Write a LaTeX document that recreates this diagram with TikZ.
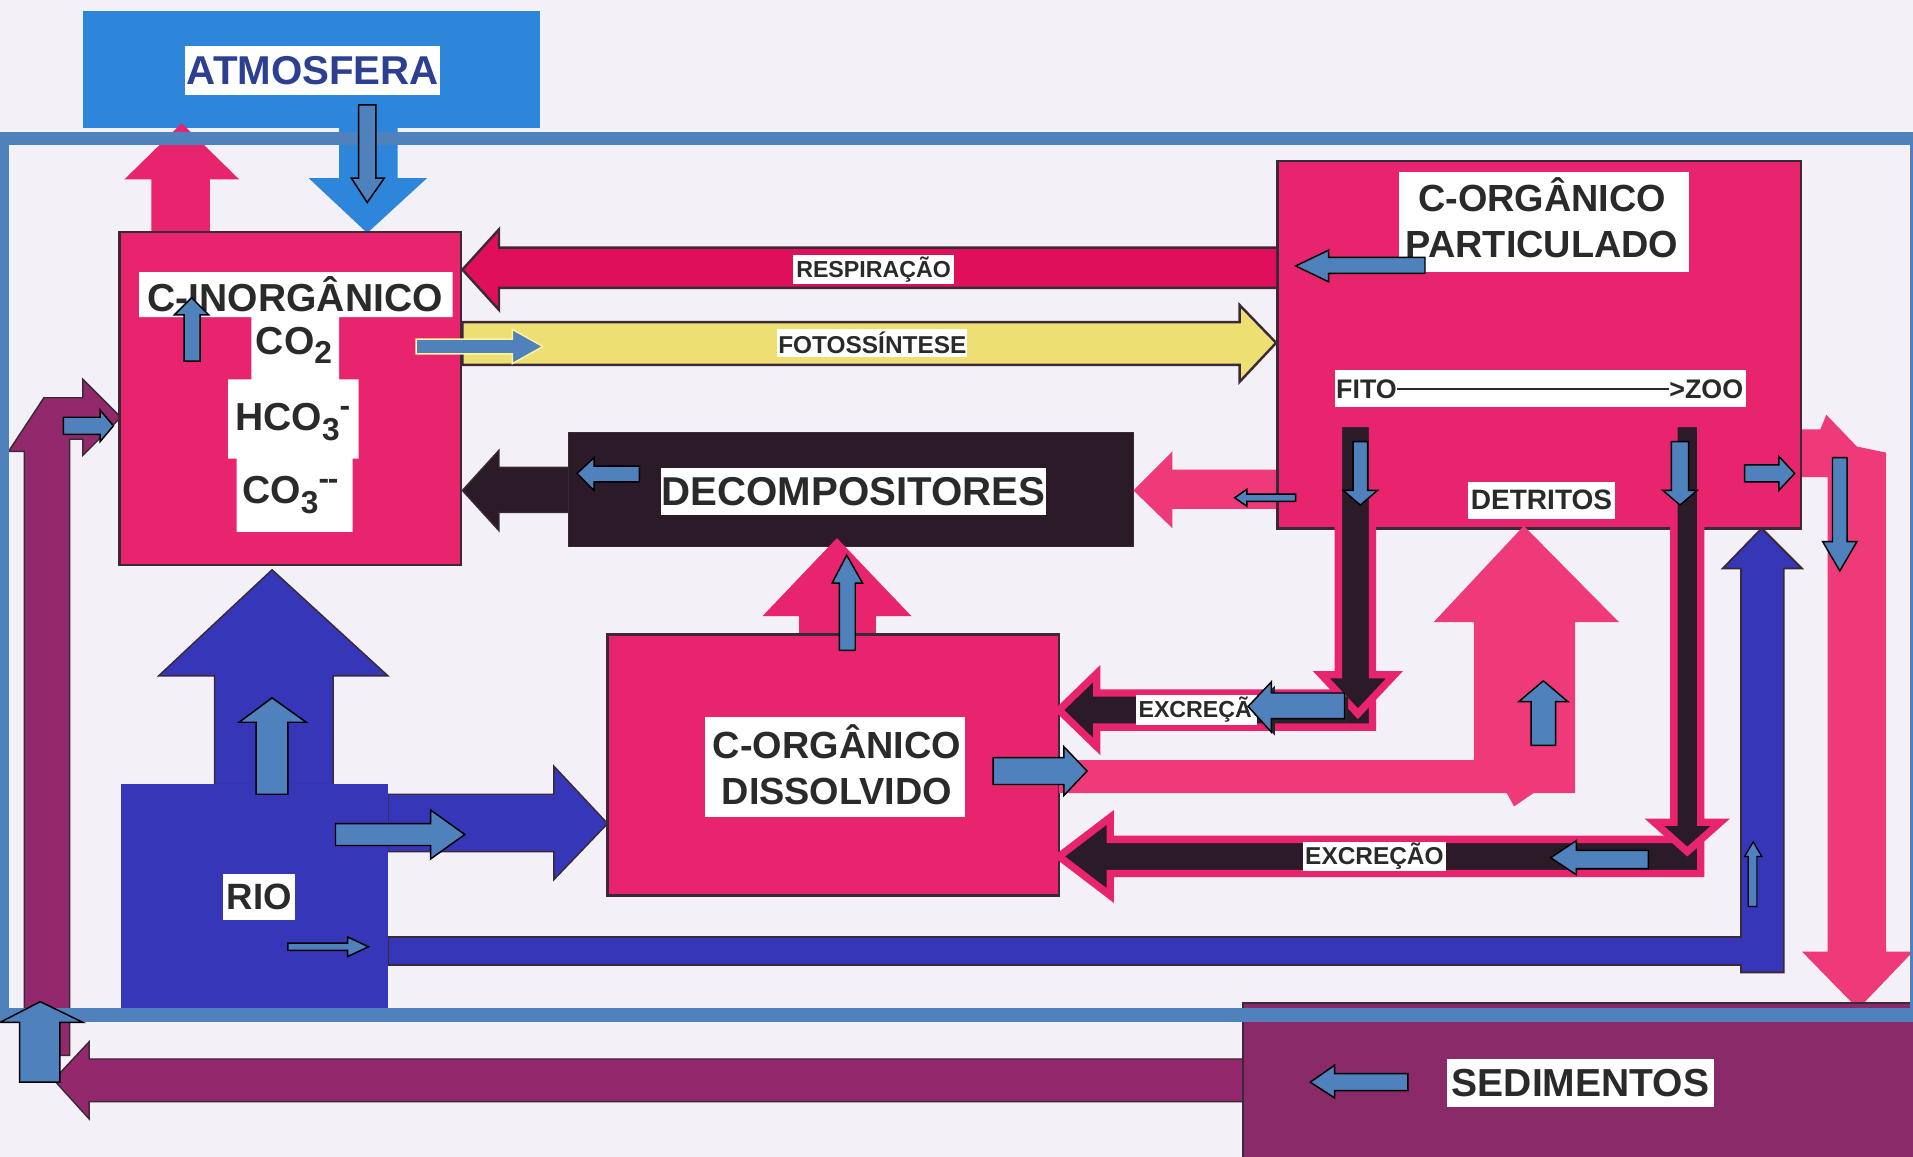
\documentclass[tikz,border=0pt]{standalone}
\usepackage{fontspec}
\setmainfont{Liberation Sans}
\definecolor{bgc}{HTML}{F3F1F7}
\definecolor{pinkA}{HTML}{E8246E}
\definecolor{pinkL}{HTML}{EE3A78}
\definecolor{redR}{HTML}{E00F5C}
\definecolor{yel}{HTML}{EEDF72}
\definecolor{atm}{HTML}{2E86DA}
\definecolor{riob}{HTML}{3636B8}
\definecolor{blk}{HTML}{2B1B28}
\definecolor{purp}{HTML}{93296C}
\definecolor{sed}{HTML}{8A2A68}
\definecolor{ovb}{HTML}{4F81BD}
\definecolor{outl}{HTML}{3A2A38}
\definecolor{txtc}{HTML}{2A2A2A}
\definecolor{atmtxt}{HTML}{2C3F90}
\definecolor{paley}{HTML}{FFF59A}
\newcommand\fsz[1]{\fontsize{#1}{#1}\selectfont\bfseries}
\tikzset{
  lbl/.style={fill=white, inner sep=0pt, text=txtc},
  txt/.style={inner sep=0pt, text=txtc},
  boxo/.style={draw=outl, line width=2},
  ov/.style={fill=ovb, draw=black, line width=1.2, line join=miter},
  halo/.style={fill=blk, draw=pinkA, line width=6, line join=miter}
}
\begin{document}
\begin{tikzpicture}[x=1pt,y=-1pt]
\useasboundingbox (0,0) rectangle (1568,948);
\fill[bgc] (0,0) rectangle (1568,948);

% ATMOSFERA
\node[fill=atm, inner sep=0, minimum width=375, minimum height=96] (atmbox) at (255.5,57) {};
% pink up arrow to atmosphere
\fill[pinkA] (124,192) -- (124,147) -- (102,147) -- (149,101) -- (196,147) -- (172,147) -- (172,192) -- cycle;
% blue down arrow from atmosphere
\fill[atm] (278,104) -- (326,104) -- (326,146) -- (350,146) -- (301,191) -- (253,146) -- (278,146) -- cycle;
\node[lbl, minimum width=209, minimum height=40, font=\fsz{33}, text=atmtxt] (atmlbl) at (256.5,58) {ATMOSFERA};

% purple bent arrow (left)
\filldraw[fill=purp, draw=outl, line width=1.2] (20,865) -- (20,370) -- (7,370) -- (36,326) -- (68,326) -- (68,311) -- (99,342) -- (68,373) -- (68,360) -- (57,360) -- (57,865) -- cycle;
% purple bottom arrow from sediments
\filldraw[fill=purp, draw=outl, line width=1.2] (1020,868) -- (73,868) -- (73,854) -- (44,885) -- (73,917) -- (73,903) -- (1020,903) -- cycle;

% respiracao
\filldraw[fill=redR, boxo] (1047,203) -- (409,203) -- (409,188) -- (379,221) -- (409,254) -- (409,236) -- (1047,236) -- cycle;
% fotossintese
\filldraw[fill=yel, boxo] (379,264) -- (1016,264) -- (1016,250) -- (1046,281) -- (1016,313) -- (1016,299) -- (379,299) -- cycle;
\node[lbl, minimum width=132, minimum height=24, font=\fsz{19}] (resp) at (716,221) {RESPIRAÇÃO};
\node[lbl, minimum width=156, minimum height=23, font=\fsz{20}] (foto) at (715,281) {FOTOSSÍNTESE};

% C-INORGANICO box
\node[fill=pinkA, boxo, inner sep=0, minimum width=280, minimum height=273] (cinorg) at (238,326.5) {};
\fill[white] (114,223) -- (371,223) -- (371,260) -- (278,260) -- (278,311) -- (294,311) -- (294,376) -- (289,376) -- (289,436) -- (194,436) -- (194,376) -- (187,376) -- (187,311) -- (206,311) -- (206,260) -- (114,260) -- cycle;
\node[txt, font=\fsz{32}] (cinorgt) at (242,241) {C-INORGÂNICO};
\node[txt, font=\fsz{32}] (co2) at (241,283) {CO{\fsz{26}\raisebox{-8pt}{2}}};
\node[txt, font=\fsz{32}] (hco3) at (240,346) {HCO{\fsz{26}\raisebox{-8pt}{3}\raisebox{12pt}{-}}};
\node[txt, font=\fsz{32}] (co3) at (238,406) {CO{\fsz{26}\raisebox{-8pt}{3}\raisebox{12pt}{{-}\kern-1pt{-}}}};

% RIO
\filldraw[fill=riob, draw=outl, line width=1.2] (176,643) -- (176,554) -- (130,554) -- (223,467) -- (318,554) -- (273,554) -- (273,643) -- cycle;
\filldraw[fill=riob, draw=outl, line width=1.2] (318,651) -- (454,651) -- (454,628) -- (498,675) -- (454,721) -- (454,698) -- (318,698) -- cycle;
\filldraw[fill=riob, draw=outl, line width=1.5] (318,768) -- (1427,768) -- (1427,466) -- (1412,466) -- (1444,433) -- (1477,466) -- (1462,466) -- (1462,797) -- (1427,797) -- (1427,791) -- (318,791) -- cycle;
\node[fill=riob, inner sep=0, minimum width=219, minimum height=183] (rio) at (208.5,734.5) {};
\node[lbl, minimum width=59, minimum height=38, font=\fsz{30}] (riol) at (212.5,735) {RIO};

% DECOMPOSITORES
\filldraw[fill=blk, draw=outl, line width=1.2] (467,383) -- (409,383) -- (409,369) -- (379,402) -- (409,435) -- (409,420) -- (467,420) -- cycle;
\node[fill=blk, draw=outl, inner sep=0, minimum width=463, minimum height=94] (decomp) at (697.5,401) {};
\node[lbl, minimum width=315, minimum height=38, font=\fsz{33}] (decompl) at (699.5,403) {DECOMPOSITORES};
\fill[pinkL] (1048,385) -- (961,385) -- (961,370) -- (929,402) -- (961,433) -- (961,417) -- (1048,417) -- cycle;

% far right pink arrow
\fill[pinkL] (1476,352) -- (1492,352) -- (1497,340) -- (1522,366) -- (1546,371) -- (1546,780) -- (1568,780) -- (1523,827) -- (1477,780) -- (1498,780) -- (1498,391) -- (1476,391) -- cycle;

% C-ORGANICO PARTICULADO
\node[fill=pinkA, boxo, inner sep=0, minimum width=429, minimum height=301] (cpart) at (1261.5,282.5) {};
\node[lbl, minimum width=237, minimum height=82] (cpartl) at (1265.5,182) {};
\node[txt, font=\fsz{31}] (cpart1) at (1264,160) {C-ORGÂNICO};
\node[txt, font=\fsz{31}] (cpart2) at (1264,200) {PARTICULADO};
\node[lbl, minimum width=337, minimum height=31] (fzband) at (1262.5,318.5) {};
\node[txt, anchor=west, font=\fsz{22}] (fito) at (1095,319) {FITO};
\node[txt, anchor=east, font=\fsz{22}] (zoo) at (1429,319) {>ZOO};
\draw[txtc, line width=1.5] (fito.east) -- (zoo.west);
\node[lbl, minimum width=121, minimum height=30, font=\fsz{23}] (detr) at (1263.5,410) {DETRITOS};

% C-ORGANICO DISSOLVIDO
\fill[pinkA] (655,521) -- (655,505) -- (625,505) -- (686,441) -- (747,505) -- (718,505) -- (718,521) -- cycle;
\node[fill=pinkA, boxo, inner sep=0, minimum width=370, minimum height=214] (cdis) at (683,627) {};
\node[lbl, minimum width=213, minimum height=82] (cdisl) at (684.5,629) {};
\node[txt, font=\fsz{31}] (cdis1) at (686,608) {C-ORGÂNICO};
\node[txt, font=\fsz{31}] (cdis2) at (686,649) {DISSOLVIDO};
% pink L arrow to detritos
\fill[pinkL] (868,623) -- (1208,623) -- (1208,510) -- (1175,510) -- (1249,431) -- (1327,510) -- (1291,510) -- (1291,650) -- (1257,650) -- (1241,661) -- (1235,650) -- (868,650) -- cycle;

% excrecao arrows (black with pink halo)
\filldraw[halo] (1125,568) -- (899,568) -- (899,552) -- (868,582) -- (899,612) -- (899,596) -- (1125,596) -- cycle;
\filldraw[halo] (1097,347) -- (1125,347) -- (1125,553) -- (1143,553) -- (1113,585) -- (1083,553) -- (1097,553) -- cycle;
\filldraw[halo] (1394,688) -- (910,688) -- (910,670) -- (868,702) -- (910,734) -- (910,716) -- (1394,716) -- cycle;
\filldraw[halo] (1372,347) -- (1394,347) -- (1394,674) -- (1410,674) -- (1383,698) -- (1356,674) -- (1372,674) -- cycle;
\node[lbl, minimum width=99, minimum height=24, anchor=west] (exc1l) at (931,582) {};
\node[txt, anchor=west, font=\fsz{19}] (exc1) at (933,582) {EXCREÇÃO};
\node[lbl, minimum width=117, minimum height=24, font=\fsz{20}] (exc2) at (1126.5,702) {EXCREÇÃO};

% SEDIMENTOS
\node[fill=sed, draw=outl, line width=2, inner sep=0, minimum width=560, minimum height=135, anchor=north west] (sedb) at (1018,821) {};
\node[lbl, minimum width=219, minimum height=39, font=\fsz{32}] (sedl) at (1295.5,887.5) {SEDIMENTOS};

% overlay frame
\draw[ovb, line width=11] (1.5,113.5) rectangle (1571,832);

% overlay arrows
\filldraw[ov] (294,86) -- (308,86) -- (308,146) -- (315,146) -- (301,166) -- (288,146) -- (294,146) -- cycle;
\filldraw[ov] (151,296) -- (151,258) -- (143,258) -- (157,244) -- (171,258) -- (164,258) -- (164,296) -- cycle;
\filldraw[ov, draw=paley] (341,278) -- (420,278) -- (420,270) -- (445,284) -- (420,298) -- (420,290) -- (341,290) -- cycle;
\filldraw[ov] (52,342) -- (82,342) -- (82,336) -- (93,349) -- (82,362) -- (82,356) -- (52,356) -- cycle;
\filldraw[ov] (524,382) -- (487,382) -- (487,375) -- (473,388) -- (487,402) -- (487,395) -- (524,395) -- cycle;
\filldraw[ov] (1168,211) -- (1089,211) -- (1089,205) -- (1062,218) -- (1089,231) -- (1089,224) -- (1168,224) -- cycle;
\filldraw[ov] (1062,405) -- (1022,405) -- (1022,401) -- (1012,408) -- (1022,415) -- (1022,411) -- (1062,411) -- cycle;
\filldraw[ov] (1109,362) -- (1121,362) -- (1121,402) -- (1129,402) -- (1115,414) -- (1101,402) -- (1109,402) -- cycle;
\filldraw[ov] (1370,362) -- (1384,362) -- (1384,402) -- (1391,402) -- (1377,414) -- (1363,402) -- (1370,402) -- cycle;
\filldraw[ov] (1430,381) -- (1458,381) -- (1458,374) -- (1471,388) -- (1458,402) -- (1458,395) -- (1430,395) -- cycle;
\filldraw[ov] (1502,375) -- (1514,375) -- (1514,444) -- (1522,444) -- (1508,468) -- (1494,444) -- (1502,444) -- cycle;
\filldraw[ov] (688,533) -- (688,478) -- (682,478) -- (694,455) -- (707,478) -- (701,478) -- (701,533) -- cycle;
\filldraw[ov] (210,651) -- (210,592) -- (196,592) -- (223,572) -- (251,592) -- (236,592) -- (236,651) -- cycle;
\filldraw[ov] (275,675) -- (353,675) -- (353,664) -- (381,684) -- (353,704) -- (353,693) -- (275,693) -- cycle;
\filldraw[ov] (236,773) -- (285,773) -- (285,768) -- (302,776) -- (285,784) -- (285,779) -- (236,779) -- cycle;
\fill[black!85, shift={(3,3)}] (1102,568) -- (1042,568) -- (1042,559) -- (1023,579) -- (1042,600) -- (1042,589) -- (1102,589) -- cycle;
\filldraw[ov] (1102,568) -- (1042,568) -- (1042,559) -- (1023,579) -- (1042,600) -- (1042,589) -- (1102,589) -- cycle;
\filldraw[ov] (814,621) -- (872,621) -- (872,612) -- (891,632) -- (872,652) -- (872,643) -- (814,643) -- cycle;
\filldraw[ov] (1255,611) -- (1255,575) -- (1245,575) -- (1265,558) -- (1285,575) -- (1275,575) -- (1275,611) -- cycle;
\filldraw[ov] (1351,697) -- (1292,697) -- (1292,689) -- (1271,703) -- (1292,717) -- (1292,712) -- (1351,712) -- cycle;
\filldraw[ov, line width=1] (1433,743) -- (1433,702) -- (1430,702) -- (1437,690) -- (1444,702) -- (1440,702) -- (1440,743) -- cycle;
\filldraw[ov] (1154,880) -- (1094,880) -- (1094,873) -- (1074,887) -- (1094,900) -- (1094,894) -- (1154,894) -- cycle;
\filldraw[ov] (16,887) -- (16,838) -- (0,838) -- (33,821) -- (68,838) -- (49,838) -- (49,887) -- cycle;
\end{tikzpicture}
\end{document}
